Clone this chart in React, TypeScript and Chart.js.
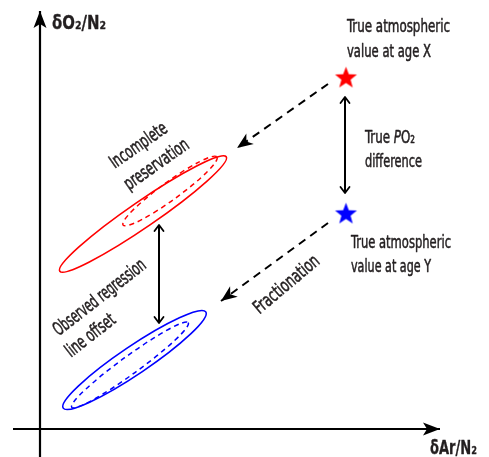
import { useEffect, useRef } from "react";
import { Chart, registerables } from "chart.js";

Chart.register(...registerables);

const W = 489;
const H = 457;

// ---- data (units: δ-space, origin at axes crossing) ----
const xRange = [-40, 449];
const yRange = [-28, 429];

const yAxisLine = [{ x: 0, y: -28 }, { x: 0, y: 418 }];
const xAxisLine = [{ x: -27, y: 0 }, { x: 400, y: 0 }];

const trueValueX = [{ x: 306, y: 352 }];
const trueValueY = [{ x: 306, y: 216 }];

const preservationPath = [{ x: 288, y: 345 }, { x: 197, y: 281 }];
const fractionationPath = [{ x: 288, y: 206 }, { x: 181, y: 128 }];
const po2Difference = [{ x: 305, y: 332 }, { x: 305, y: 236 }];
const regressionOffset = [{ x: 119, y: 204 }, { x: 119, y: 106 }];

// clouds: [centerX, centerY, semiMajor, semiMinor, slopeDeg]
const cloudXObserved = [103, 215, 101, 13, 34.5];
const cloudXTrue = [130, 238, 58, 9, 36];
const cloudYObserved = [94.5, 69, 86, 14, 34];
const cloudYTrue = [90, 64, 72, 9, 36];

const yAxisTitle = "δO₂/N₂";
const xAxisTitle = "δAr/N₂";
const labelX = ["True atmospheric", "value at age X"];
const labelY = ["True atmospheric", "value at age Y"];
const labelDiff = ["difference"];
const labelIncomplete = ["Incomplete", "preservation"];
const labelOffset = ["Observed regression", "line offset"];
const labelFrac = ["Fractionation"];

const TEXT = "#231f20";
const FONT = "'Liberation Sans Narrow', 'DejaVu Sans Condensed', 'Open Sans', sans-serif";

type Seg = { t: string; italic?: boolean };
type TextItem = { segs: Seg[]; x: number; y: number; angle: number; align: "left" | "center"; w: number; bold?: boolean; size: number };

const textItems: TextItem[] = [
  { segs: [{ t: yAxisTitle }], x: 12, y: 405, angle: 0, align: "left", w: 54, bold: true, size: 19 },
  { segs: [{ t: xAxisTitle }], x: 390, y: -20, angle: 0, align: "left", w: 47, bold: true, size: 19 },
  { segs: [{ t: labelX[0] }], x: 307, y: 402, angle: 0, align: "left", w: 103, size: 18.5 },
  { segs: [{ t: labelX[1] }], x: 307, y: 377, angle: 0, align: "left", w: 84, size: 18.5 },
  { segs: [{ t: labelY[0] }], x: 311, y: 186, angle: 0, align: "left", w: 100, size: 18.5 },
  { segs: [{ t: labelY[1] }], x: 311, y: 162, angle: 0, align: "left", w: 80, size: 18.5 },
  { segs: [{ t: "True " }, { t: "P", italic: true }, { t: "O₂" }], x: 325, y: 291, angle: 0, align: "left", w: 50, size: 18.5 },
  { segs: [{ t: labelDiff[0] }], x: 325, y: 267, angle: 0, align: "left", w: 57, size: 18.5 },
  { segs: [{ t: labelIncomplete[0] }], x: 99, y: 283, angle: 35, align: "center", w: 66, size: 18.5 },
  { segs: [{ t: labelIncomplete[1] }], x: 117, y: 264, angle: 35, align: "center", w: 75, size: 18.5 },
  { segs: [{ t: labelOffset[0] }], x: 60, y: 131, angle: 38, align: "center", w: 112, size: 18.5 },
  { segs: [{ t: labelOffset[1] }], x: 51, y: 93, angle: 38, align: "center", w: 58, size: 18.5 },
  { segs: [{ t: labelFrac[0] }], x: 247, y: 144, angle: 40, align: "center", w: 80, size: 18.5 },
];

const clouds = [
  { g: cloudXObserved, color: "#ff0000", dash: [] as number[], lw: 1.6 },
  { g: cloudXTrue, color: "#ff0000", dash: [5, 4], lw: 1.5 },
  { g: cloudYObserved, color: "#0000ff", dash: [] as number[], lw: 1.6 },
  { g: cloudYTrue, color: "#0000ff", dash: [5, 4], lw: 1.5 },
];

const AXIS_HEAD = { type: "stealth", len: 17, half: 6.5, notch: 4 };
const DASH_HEAD = { type: "stealth", len: 16, half: 6.5, notch: 4.5 };
const OPEN_HEAD = { type: "open", len: 6, half: 4.5 };

function makeStar(color: string, R: number) {
  const c = document.createElement("canvas");
  const s = Math.ceil(2 * R + 4);
  c.width = s;
  c.height = s;
  const g = c.getContext("2d")!;
  const cx = s / 2;
  const cy = s / 2 + R * 0.1;
  const r = R * 0.42;
  g.beginPath();
  for (let i = 0; i < 10; i++) {
    const rad = i % 2 === 0 ? R : r;
    const a = -Math.PI / 2 + (i * Math.PI) / 5;
    const px = cx + rad * Math.cos(a);
    const py = cy + rad * Math.sin(a);
    if (i === 0) g.moveTo(px, py);
    else g.lineTo(px, py);
  }
  g.closePath();
  g.fillStyle = color;
  g.fill();
  return c;
}

const arrowPlugin = {
  id: "arrows",
  afterDatasetsDraw(chart: any) {
    const ctx = chart.ctx as CanvasRenderingContext2D;
    chart.data.datasets.forEach((ds: any, i: number) => {
      const arr = ds.arrows;
      if (!arr) return;
      const pts = chart.getDatasetMeta(i).data;
      if (pts.length < 2) return;
      const draw = (tip: any, from: any, st: any) => {
        const ang = Math.atan2(tip.y - from.y, tip.x - from.x);
        ctx.save();
        ctx.translate(tip.x, tip.y);
        ctx.rotate(ang);
        ctx.setLineDash([]);
        ctx.fillStyle = ds.borderColor;
        ctx.strokeStyle = ds.borderColor;
        ctx.beginPath();
        if (st.type === "stealth") {
          ctx.moveTo(0, 0);
          ctx.lineTo(-st.len, st.half);
          ctx.lineTo(-st.len + st.notch, 0);
          ctx.lineTo(-st.len, -st.half);
          ctx.closePath();
          ctx.fill();
        } else {
          ctx.lineWidth = 1.8;
          ctx.lineCap = "round";
          ctx.lineJoin = "round";
          ctx.moveTo(-st.len, st.half);
          ctx.lineTo(0, 0);
          ctx.lineTo(-st.len, -st.half);
          ctx.stroke();
        }
        ctx.restore();
      };
      const n = pts.length;
      if (arr.end) draw(pts[n - 1], pts[n - 2], arr.end);
      if (arr.start) draw(pts[0], pts[1], arr.start);
    });
  },
};

const cloudPlugin = {
  id: "clouds",
  beforeDatasetsDraw(chart: any) {
    const ctx = chart.ctx as CanvasRenderingContext2D;
    const xs = chart.scales.x;
    const ys = chart.scales.y;
    clouds.forEach((c) => {
      const [cx, cy, a, b, deg] = c.g;
      const px = xs.getPixelForValue(cx);
      const py = ys.getPixelForValue(cy);
      const ap = xs.getPixelForValue(cx + a) - px;
      const bp = py - ys.getPixelForValue(cy + b);
      ctx.save();
      ctx.strokeStyle = c.color;
      ctx.lineWidth = c.lw;
      ctx.setLineDash(c.dash);
      ctx.beginPath();
      ctx.ellipse(px, py, ap, bp, (-deg * Math.PI) / 180, 0, Math.PI * 2);
      ctx.stroke();
      ctx.restore();
    });
  },
};

const textPlugin = {
  id: "texts",
  afterDraw(chart: any) {
    const ctx = chart.ctx as CanvasRenderingContext2D;
    const xs = chart.scales.x;
    const ys = chart.scales.y;
    textItems.forEach((it) => {
      const px = xs.getPixelForValue(it.x);
      const py = ys.getPixelForValue(it.y);
      const fontFor = (s: Seg) => `${s.italic ? "italic " : ""}${it.bold ? "bold " : ""}${it.size}px ${FONT}`;
      let total = 0;
      const widths = it.segs.map((s) => {
        ctx.font = fontFor(s);
        const w = ctx.measureText(s.t).width;
        total += w;
        return w;
      });
      const k = it.w / total;
      ctx.save();
      ctx.translate(px, py);
      ctx.rotate((-it.angle * Math.PI) / 180);
      ctx.scale(k, 1);
      ctx.fillStyle = TEXT;
      ctx.strokeStyle = TEXT;
      ctx.lineWidth = it.bold ? 0.3 : 0.55;
      ctx.lineJoin = "round";
      ctx.textBaseline = "middle";
      ctx.textAlign = "left";
      let x0 = it.align === "center" ? -total / 2 : 0;
      it.segs.forEach((s, j) => {
        ctx.font = fontFor(s);
        ctx.fillText(s.t, x0, 0);
        ctx.strokeText(s.t, x0, 0);
        x0 += widths[j];
      });
      ctx.restore();
    });
  },
};

export default function App() {
  const ref = useRef<HTMLCanvasElement | null>(null);
  useEffect(() => {
    document.body.style.margin = "0";
    if (!ref.current) return;
    const lineDs = (data: any[], extra: any) => ({
      type: "line",
      data,
      showLine: true,
      borderColor: "#000000",
      borderWidth: 2,
      pointRadius: 0,
      pointHoverRadius: 0,
      fill: false,
      tension: 0,
      clip: false,
      ...extra,
    });
    const chart = new Chart(ref.current, {
      type: "scatter",
      data: {
        datasets: [
          lineDs(yAxisLine, { arrows: { end: AXIS_HEAD }, borderWidth: 2.2 }),
          lineDs(xAxisLine, { arrows: { end: AXIS_HEAD }, borderWidth: 2.2 }),
          lineDs(preservationPath, { arrows: { end: DASH_HEAD }, borderDash: [8, 6] }),
          lineDs(fractionationPath, { arrows: { end: DASH_HEAD }, borderDash: [8, 6] }),
          lineDs(po2Difference, { arrows: { start: OPEN_HEAD, end: OPEN_HEAD } }),
          lineDs(regressionOffset, { arrows: { start: OPEN_HEAD, end: OPEN_HEAD } }),
          { data: trueValueX, pointStyle: makeStar("#ff0000", 11.5), pointRadius: 11, clip: false },
          { data: trueValueY, pointStyle: makeStar("#0000ff", 11.5), pointRadius: 11, clip: false },
        ] as any,
      },
      options: {
        animation: false,
        responsive: false,
        maintainAspectRatio: false,
        layout: { padding: 0, autoPadding: false },
        events: [],
        plugins: { legend: { display: false }, tooltip: { enabled: false } },
        scales: {
          x: { type: "linear", min: xRange[0], max: xRange[1], display: false },
          y: { type: "linear", min: yRange[0], max: yRange[1], display: false },
        },
      },
      plugins: [cloudPlugin, arrowPlugin, textPlugin],
    } as any);
    return () => chart.destroy();
  }, []);
  return (
    <canvas
      ref={ref}
      width={W}
      height={H}
      style={{ display: "block", width: W, height: H, background: "#ffffff" }}
    />
  );
}
